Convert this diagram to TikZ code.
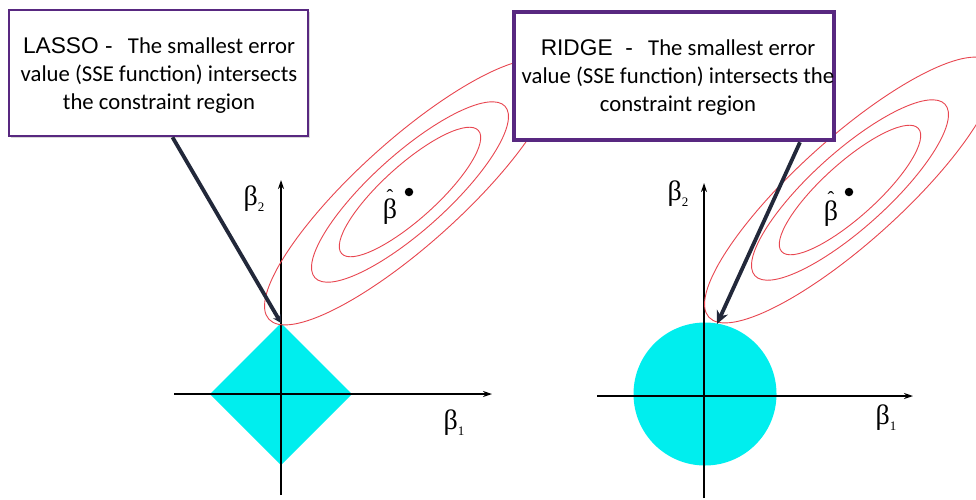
\documentclass[tikz,border=0pt]{standalone}
\usepackage{fontspec}
\setmainfont{Carlito}
\newfontfamily\arialf{Liberation Sans}
\newfontfamily\timesf{Liberation Serif}
\usetikzlibrary{arrows.meta,shadows}
\definecolor{boxpurple}{RGB}{88,40,128}
\definecolor{ellred}{RGB}{232,70,80}
\definecolor{regcyan}{RGB}{0,238,238}
\definecolor{arrownavy}{RGB}{34,40,58}
\newcommand{\betahat}{\ooalign{\hfil\raisebox{15pt}{\fontsize{20}{20}\selectfont ˆ}\hfil\cr β\cr}}
\newcommand{\betasub}[1]{β\raisebox{-6pt}{\fontsize{13}{13}\selectfont #1}}
\begin{document}
\begin{tikzpicture}[x=1pt,y=-1pt,
  boxstyle/.style={draw=boxpurple, fill=white, inner sep=0pt,
    drop shadow={shadow xshift=1.5pt,shadow yshift=-1.5pt,opacity=0.3}},
  boxtext/.style={align=center, inner sep=0pt, font=\fontsize{22.7}{28}\selectfont},
  axis/.style={line width=1.3pt, -{Stealth[length=9pt,width=6pt]}},
  ell/.style={draw=ellred, line width=0.9pt},
  conn/.style={draw=arrownavy, line width=3.8pt, -{Stealth[length=13pt,width=12pt]}},
  blabel/.style={font=\timesf\fontsize{28}{28}\selectfont, inner sep=0pt},
  dotstyle/.style={circle, fill=black, inner sep=0pt, minimum size=8.5pt}
]
\useasboundingbox (0,0) rectangle (976,499);
\clip (0,0) rectangle (976,499);
\fill[white] (0,0) rectangle (976,499);

% ---------- LASSO ----------
\fill[regcyan] (210,394) -- (281,323) -- (352,394) -- (281,465) -- cycle;
\coordinate (ltop) at (281,323);
\draw[axis] (174,394) -- (492,394);
\draw[axis] (281,495) -- (281,180);
\node[blabel] (lb2) at (254,199) {\betasub{2}};
\node[blabel] (lb1) at (454,423) {\betasub{1}};
\coordinate (lc) at (410,192);
\draw[ell, rotate around={42:(lc)}] (lc) ellipse [x radius=190pt, y radius=52pt];
\draw[ell, rotate around={42:(lc)}] (lc) ellipse [x radius=128pt, y radius=38pt];
\draw[ell, rotate around={42:(lc)}] (lc) ellipse [x radius=92pt, y radius=27pt];
\node[blabel, anchor=base] (lbh) at (390,218) {\betahat};
\node[dotstyle] (ldot) at (409,192) {};

% ---------- RIDGE ----------
\fill[regcyan] (705,394) circle [radius=71.5pt];
\draw[axis] (597,396) -- (913,396);
\draw[axis] (704,498) -- (704,183);
\node[blabel] (rb2) at (678,194) {\betasub{2}};
\node[blabel] (rb1) at (886,418) {\betasub{1}};
\coordinate (rc) at (850,190);
\draw[ell, rotate around={42:(rc)}] (rc) ellipse [x radius=190pt, y radius=52pt];
\draw[ell, rotate around={42:(rc)}] (rc) ellipse [x radius=128pt, y radius=38pt];
\draw[ell, rotate around={42:(rc)}] (rc) ellipse [x radius=92pt, y radius=27pt];
\node[blabel, anchor=base] (rbh) at (831,220) {\betahat};
\node[dotstyle] (rdot) at (849,192) {};
\coordinate (rtouch) at (717,324);

% ---------- boxes ----------
\node[boxstyle, line width=2.5pt, minimum width=299pt, minimum height=126pt] (lbox) at (158.5,73) {};
\node[boxtext] (ltext) at (159,76)
  {{\arialf LASSO -}\ \ \ The smallest error\\value (SSE function) intersects\\the constraint region};
\node[boxstyle, line width=4.5pt, minimum width=320pt, minimum height=128pt] (rbox) at (674,76) {};
\node[boxtext] (rtext) at (678,78)
  {{\arialf RIDGE\ \ -}\ \ \ The smallest error\\value (SSE function) intersects the\\constraint region};

% ---------- connectors ----------
\draw[conn, -{Stealth[length=8pt,width=9pt]}] ([xshift=14pt]lbox.south) -- (ltop);
\draw[conn] ([xshift=126pt]rbox.south) -- (rtouch);
\end{tikzpicture}
\end{document}
